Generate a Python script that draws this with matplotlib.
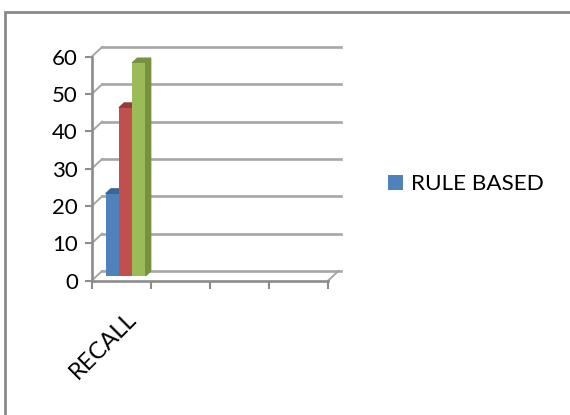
import matplotlib.pyplot as plt
import matplotlib.transforms as mtransforms
from matplotlib.patches import Polygon, Rectangle

categories = ["RECALL", "", "", ""]
series_names = ["RULE BASED", "", ""]
series_values = [22, 45, 57]
series_colors = ["#4f81bd", "#c0504d", "#9bbb59"]
side_colors = ["#3b6592", "#943c3a", "#76913f"]
yticks = [0, 10, 20, 30, 40, 50, 60]

plt.rcParams['font.family'] = ['Lato', 'DejaVu Sans']

fig = plt.figure(figsize=(5.7, 4.15), dpi=100)

# outer chart frame (right/bottom edges fall outside the picture)
fig.patches.append(Rectangle((5 / 570, -0.1), 1.2, 1.1 - 12 / 415, transform=fig.transFigure,
                             fill=False, edgecolor="#8a8a8a", linewidth=2))

ax = fig.add_axes([91.7 / 570, (415 - 280.7) / 415, 236.3 / 570, 224 / 415])
ax.set_xlim(0, len(categories))
ax.set_ylim(0, 60)
for s in ax.spines.values():
    s.set_visible(False)
ax.patch.set_visible(False)

# depth offset for the back wall, in points
dx, dy = 7.5, 7.0
back = ax.transData + mtransforms.ScaledTranslation(dx / 72, dy / 72, fig.dpi_scale_trans)
half = ax.transData + mtransforms.ScaledTranslation(dx / 144, dy / 144, fig.dpi_scale_trans)

grid_col = "#a6a6a6"
for v in yticks:
    ax.plot([0, len(categories) + 0.05], [v, v], color=grid_col, lw=1.9, transform=back, clip_on=False)
    # little diagonal joining axis to back wall
    x0, y0 = ax.transData.transform((0, v))
    x1, y1 = back.transform((0, v))
    ax.plot([x0, x1], [y0, y1], color=grid_col, lw=1.4, transform=None, clip_on=False)
# floor right diagonal
x0, y0 = ax.transData.transform((len(categories), 0))
x1, y1 = back.transform((len(categories), 0))
ax.plot([x0, x1], [y0, y1], color=grid_col, lw=1.4, transform=None, clip_on=False)

# bars
bw = 0.224
for i, (v, c, sc) in enumerate(zip(series_values, series_colors, side_colors)):
    left = 0.15 + i * bw
    ax.bar(left, v, width=bw, align="edge", color=c, edgecolor="none", transform=half,
           label=series_names[i] if series_names[i] else None, zorder=3)
    # top face
    pts = [half.transform((left, v)), half.transform((left + bw, v))]
    p2 = back.transform((left + bw, v))
    p3 = back.transform((left, v))
    ax.add_patch(Polygon([pts[0], pts[1], p2, p3], closed=True, color=sc, transform=None,
                         zorder=2, clip_on=False))
    if i == len(series_values) - 1:
        q0 = half.transform((left + bw, 0))
        ax.add_patch(Polygon([pts[1], p2, back.transform((left + bw, 0)), q0], closed=True,
                             color=sc, transform=None, zorder=2, clip_on=False))

# axis lines
ax.plot([0, 0], [0, 60], color="#8c8c8c", lw=1.9, clip_on=False, zorder=4)
ax.plot([0, len(categories)], [0, 0], color="#8c8c8c", lw=1.9, clip_on=False, zorder=4)

ax.set_yticks(yticks)
ax.set_xticks(range(len(categories) + 1))
ax.set_xticklabels([])
ax.tick_params(axis="y", length=5, width=1.5, color="#8c8c8c", labelsize=16, pad=5)
ax.tick_params(axis="x", length=6, width=1.5, color="#8c8c8c")
for i, name in enumerate(categories):
    if name:
        ax.text(i + 0.58, -7.5, name, rotation=45, ha="right", va="top", fontsize=17,
                rotation_mode="anchor")

ax.legend(loc="center left", bbox_to_anchor=(1.17, 0.43), frameon=False, fontsize=16.2,
          handlelength=0.65, handleheight=0.65, handletextpad=0.35)

fig.savefig("out.png", dpi=100)
